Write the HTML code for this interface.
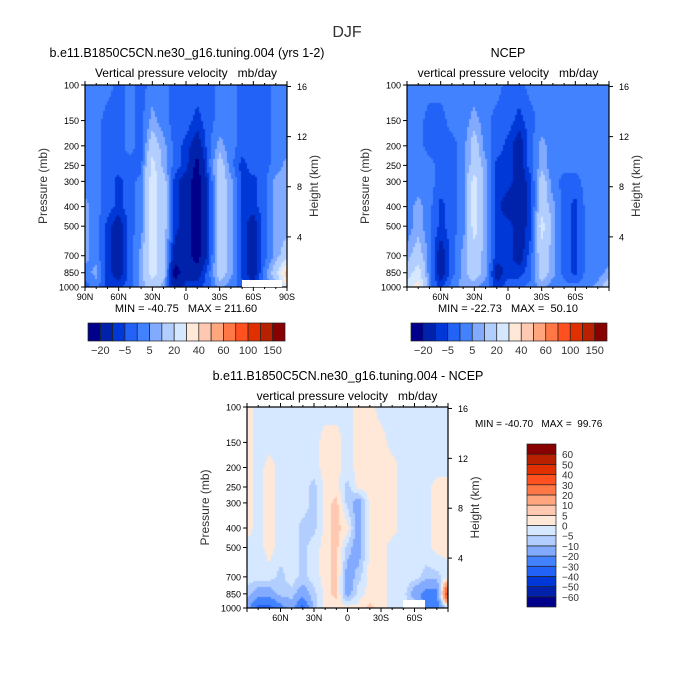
<!DOCTYPE html>
<html><head><meta charset="utf-8">
<style>
body{margin:0;background:#fff;width:695px;height:693px;overflow:hidden;position:relative;font-family:"Liberation Sans",sans-serif;}
canvas{position:absolute;}
svg{position:absolute;left:0;top:0;}
text{white-space:pre;}
</style></head>
<body>
<canvas id="c1" width="202" height="202" style="left:85px;top:85px"></canvas>
<canvas id="c2" width="202" height="202" style="left:407px;top:85px"></canvas>
<canvas id="c3" width="201" height="201" style="left:247px;top:407px"></canvas>
<svg id="s" width="695" height="693"></svg>
<script>
const lats=[90,80,70,60,50,40,30,20,10,0,-10,-20,-30,-40,-50,-60,-70,-80,-90];
const levels=[100,150,200,250,300,400,500,700,850,1000];
const modelField=[
[2,2,2,-2,2,-2,2,2,-2,-2,-2,-2,2,2,-2,-2,-2,2,2],
[2,2,-2,-2,2,-2,7,2,-2,-2,-7,-2,2,2,-2,-2,-2,2,2],
[2,2,-2,-2,2,-2,15,7,-2,-7,-15,-2,7,2,-2,-2,-2,2,2],
[2,2,-2,-2,-2,-2,25,7,-2,-7,-25,-2,15,2,-7,-2,-2,2,7],
[2,2,-2,-7,-2,2,25,15,-7,-15,-25,-7,15,7,-7,-7,-2,7,7],
[7,2,-2,-7,-2,2,25,15,-7,-15,-25,-7,15,7,-7,-7,-2,7,7],
[7,2,-7,-15,-2,2,25,15,-7,-15,-25,-7,15,7,-7,-15,-2,7,7],
[7,2,-7,-15,-2,7,25,15,-15,-15,-25,-7,15,7,-7,-15,-2,7,15],
[2,7,-7,-15,-2,7,25,15,-25,-15,-15,-2,15,7,-7,-15,2,15,45],
[-2,2,-7,-7,-2,7,15,7,-15,-7,-7,-2,7,2,-2,-7,2,7,35]];
const ncepField=[
[2,2,2,2,2,2,2,2,2,-2,-2,2,2,2,2,2,2,2,2],
[2,2,-2,-2,2,2,7,2,-2,-2,-7,-2,2,2,2,2,2,2,2],
[2,2,-2,-2,-2,2,15,2,-2,-7,-15,-2,7,2,2,2,2,2,2],
[2,2,2,-2,-2,2,15,7,-7,-7,-15,-2,7,2,2,2,2,2,2],
[2,2,2,-2,-2,2,25,7,-7,-7,-15,-7,15,2,-2,-2,2,2,2],
[2,7,2,-7,-2,2,25,7,-7,-15,-15,-7,15,7,-2,-7,2,2,2],
[2,7,2,-7,-2,2,25,7,-7,-7,-15,-7,25,7,-2,-7,2,2,2],
[7,15,2,-15,-2,7,15,7,-7,-7,-15,-2,15,7,-2,-7,2,2,2],
[15,25,2,-15,-2,7,15,7,-15,-7,-7,-2,15,7,-2,-7,2,2,7],
[25,35,2,-7,2,7,7,2,-7,-2,-2,2,7,2,2,2,2,7,15]];
const diffField=[
[2,-2,-2,-2,-2,-2,-2,-2,-2,-2,2,2,-2,-2,-2,-2,-2,-2,-2],
[2,-2,-2,-2,-2,-2,-2,2,2,-2,2,2,2,-2,-2,-2,-2,-2,-2],
[2,-2,2,-2,-2,-2,-2,2,2,-2,2,2,2,2,-2,-2,-2,-2,-2],
[2,-2,2,-2,-2,-2,-7,2,2,-7,2,2,2,2,-2,-2,-2,2,2],
[2,-2,2,-2,-2,-2,-7,2,7,-7,-15,2,2,2,-2,-2,-2,2,2],
[2,-2,2,-2,-2,-7,-7,2,7,2,-15,2,2,2,-2,-2,-2,2,2],
[-2,-2,2,-2,-2,-7,-2,2,7,-7,-15,2,2,-2,-2,-2,-2,2,2],
[-2,-2,-2,-7,-2,-7,-2,2,7,-15,-7,2,2,-2,-2,-2,-7,-7,-2],
[-7,-15,-15,-7,-7,-15,-7,2,7,-15,-2,2,2,-2,-2,-15,-25,-25,45],
[-15,-35,-35,-25,-15,-35,-7,2,2,2,2,7,2,-2,-2,-2,-25,-25,-2]];
const topBounds=[-20,-10,-5,0,5,10,20,30,40,50,60,80,100,125,150];
const topLabels=["-20","-5","5","20","40","60","100","150"];
const diffBounds=[-60,-50,-40,-30,-20,-10,-5,0,5,10,20,30,40,50,60];
const diffLabels=["-60","-50","-40","-30","-20","-10","-5","0","5","10","20","30","40","50","60"];
const pLabels=[100,150,200,250,300,400,500,700,850,1000];
const hLabels=[4,8,12,16];
const colors=["#00008a","#0022aa","#0038d8","#2262f6","#4282ff","#82aaff","#b2ceff","#d6e8ff","#ffe8d8","#ffc8b0","#ffa67e","#ff7846","#ff5020","#e03000","#b82000","#880000"];

function colorFor(v,b){let i=0;while(i<b.length&&v>=b[i])i++;return colors[i];}
function interp(field,lat,p){
  const lp=Math.log10(p);
  let r=0;while(r<levels.length-2&&Math.log10(levels[r+1])<lp)r++;
  const l0=Math.log10(levels[r]),l1=Math.log10(levels[r+1]);
  const ty=Math.min(1,Math.max(0,(lp-l0)/(l1-l0)));
  let c=Math.min(17,Math.max(0,Math.floor((90-lat)/10)));
  const tx=Math.min(1,Math.max(0,((90-lat)-c*10)/10));
  const a=field[r][c],b=field[r][c+1],d=field[r+1][c],e=field[r+1][c+1];
  return (a*(1-tx)+b*tx)*(1-ty)+(d*(1-tx)+e*tx)*ty;
}
function drawField(id,field,bounds){
  const cv=document.getElementById(id),ctx=cv.getContext('2d');
  const W=cv.width,H=cv.height;
  for(let y=0;y<H;y+=2)for(let x=0;x<W;x+=2){
    const lat=90-180*(x+1)/W;const p=Math.pow(10,2+(y+1)/H);
    ctx.fillStyle=colorFor(interp(field,lat,p),bounds);ctx.fillRect(x,y,2,2);
  }
}
drawField('c1',modelField,topBounds);
drawField('c2',ncepField,topBounds);
drawField('c3',diffField,diffBounds);

const S=document.getElementById('s');const NS='http://www.w3.org/2000/svg';
function el(t,a,txt){const e=document.createElementNS(NS,t);for(const k in a)e.setAttribute(k,a[k]);if(txt!==undefined)e.textContent=txt;S.appendChild(e);return e;}
function text(x,y,s,size,anchor,name,extra){const e=el('text',Object.assign({x:x,y:y,'font-size':size,'text-anchor':anchor||'middle',fill:'#000','font-family':'Liberation Sans, sans-serif'},extra||{}),s);return e;}
function line(x1,y1,x2,y2,w){return el('line',{x1:x1,y1:y1,x2:x2,y2:y2,stroke:'#000','stroke-width':w||1});}

function panel(x0,y0,w,h,latLabels,prefix){
  const fr=el('rect',{x:x0,y:y0,width:w,height:h,fill:'none',stroke:'#000','stroke-width':1.2});
  
  for(let lat=90;lat>=-90;lat-=10){
    const x=x0+w*(90-lat)/180;const maj=lat%30===0;const L=maj?4:2;
    line(x,y0+h,x,y0+h+L);line(x,y0,x,y0-L);
  }
  latLabels.forEach(s=>{
    let v=s==='0'?0:parseInt(s);if(s.endsWith('S'))v=-v;
    text(x0+w*(90-v)/180,y0+h+13,s,9,'middle',prefix+'-lat-label');
  });
  pLabels.forEach(p=>{
    const y=y0+h*(Math.log10(p)-2);line(x0-4,y,x0,y);
    text(x0-6,y+3.5,String(p),9,'end',prefix+'-pressure-tick-label');
  });
  hLabels.forEach(km=>{
    const p=1000*Math.exp(-km/7);const y=y0+h*(Math.log10(p)-2);line(x0+w,y,x0+w+4,y);
    text(x0+w+10,y+3.5,String(km),9,'start',prefix+'-height-tick-label');
  });
  text(x0-38,y0+h/2,'Pressure (mb)',12,'middle',prefix+'-y-axis-title',{transform:`rotate(-90 ${x0-38} ${y0+h/2})`,fill:'#333'});
  text(x0+w+31,y0+h/2,'Height (km)',12,'middle',prefix+'-right-axis-title',{transform:`rotate(-90 ${x0+w+31} ${y0+h/2})`,fill:'#333'});
}
panel(85,85,202,202,['90N','60N','30N','0','30S','60S','90S'],'model');
panel(407,85,202,202,['60N','30N','0','30S','60S'],'ncep');
panel(247,407,201,201,['60N','30N','0','30S','60S'],'diff');

let m1=el('rect',{x:242,y:280,width:40,height:7,fill:'#fff'});
let m2=el('rect',{x:403,y:600,width:22,height:7.5,fill:'#fff'});

text(347,37,'DJF',16,'middle','figure-title',{fill:'#333'});
text(187,57,'b.e11.B1850C5CN.ne30_g16.tuning.004 (yrs 1-2)',12.5,'middle','model-panel-title');
text(186,77,'Vertical pressure velocity   mb/day',12,'middle','model-subtitle');
text(508,57,'NCEP',12.5,'middle','ncep-panel-title');
text(508,77,'vertical pressure velocity   mb/day',12,'middle','ncep-subtitle');
text(348,380,'b.e11.B1850C5CN.ne30_g16.tuning.004 - NCEP',12.5,'middle','diff-panel-title');
text(347,400,'vertical pressure velocity   mb/day',12,'middle','diff-subtitle');
text(186,312,'MIN = -40.75   MAX = 211.60',11,'middle','model-min-max');
text(508,312,'MIN = -22.73   MAX =  50.10',11,'middle','ncep-min-max');
text(475,427,'MIN = -40.70   MAX =  99.76',10,'start','diff-min-max');

function hbar(x0,y0,w,h,name){
  const bw=w/16;
  for(let i=0;i<16;i++){
    const r=el('rect',{x:x0+i*bw,y:y0,width:bw,height:h,fill:colors[i],stroke:'#222','stroke-width':0.7});
    
  }
  topLabels.forEach((s,k)=>{text(x0+(2*k+1)*bw,y0+h+13,s.replace('-','\u2212'),11,'middle',name+'-label',{fill:'#333'});});
}
hbar(88,323,197,18,'model-colorbar');
hbar(411,323,196,18,'ncep-colorbar');
(function(){
  const x0=527,y0=444,w=29,h=163,bh=h/16;
  for(let i=0;i<16;i++){
    const r=el('rect',{x:x0,y:y0+(15-i)*bh,width:w,height:bh,fill:colors[i],stroke:'#222','stroke-width':0.7});
    
  }
  diffLabels.forEach((s,k)=>{text(x0+w+6,y0+(15-k)*bh+4,s.replace('-','\u2212'),10,'start','diff-colorbar-label',{fill:'#333'});});
})();
</script>
</body></html>
